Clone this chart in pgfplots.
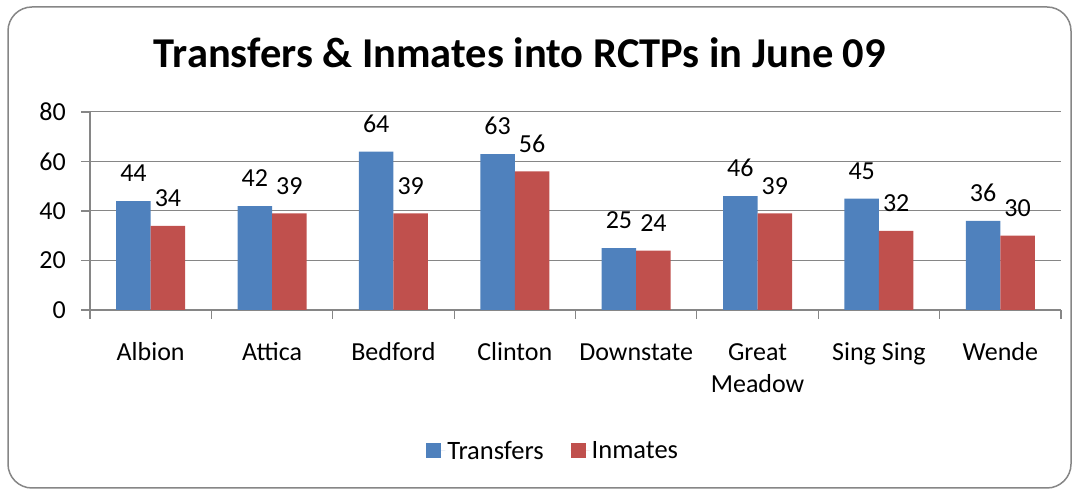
\documentclass[border=0pt]{standalone}
\usepackage{fontspec}
\setmainfont{Carlito}
\usepackage{pgfplots}
\pgfplotsset{compat=1.18}
\definecolor{cblue}{RGB}{79,129,189}
\definecolor{cred}{RGB}{192,80,77}
\definecolor{cgrid}{RGB}{134,134,134}
\begin{document}
\begin{tikzpicture}[x=1pt,y=1pt]
\useasboundingbox (0,0) rectangle (1079,489);
\draw[cgrid, line width=1.5pt, rounded corners=24pt] (8,1) rectangle (1071,482);
\node[font=\fontsize{42.5}{46}\selectfont\bfseries] at (520,436) {Transfers \& Inmates into RCTPs in June 09};
\begin{axis}[
  at={(90pt,179pt)}, anchor=south west,
  scale only axis, width=971pt, height=198pt,
  ymin=0, ymax=80, xmin=-0.5, xmax=7.5,
  ytick={0,20,...,80},
  xtick={-0.5,0.5,...,7.5},
  x tick label as interval,
  xticklabels={Albion,Attica,Bedford,Clinton,Downstate,{\begin{tabular}[t]{@{}c@{}}Great\\Meadow\end{tabular}},{Sing Sing},Wende},
  ybar=0pt, bar width=34.5pt,
  axis x line*=bottom, axis y line*=left,
  axis line style={cgrid, line width=1.2pt, -},
  tick style={cgrid, line width=1.2pt},
  tick align=outside, major tick length=9pt,
  ymajorgrids, grid style={cgrid, line width=1pt},
  clip=false,
  /pgf/number format/assume math mode=true,
  tick label style={font=\fontsize{26}{32}\selectfont, text=black},
  xticklabel style={anchor=north, inner sep=0pt, yshift=-19pt, execute at begin node=\strut},
  yticklabel style={anchor=east, inner sep=0pt, xshift=-15pt},
  nodes near coords,
  every node near coord/.append style={font=\fontsize{26}{30}\selectfont, text=black, anchor=south, inner sep=0pt, yshift=19pt},
  legend columns=2,
  legend style={draw=none, fill=none, at={(0.477,-0.712)}, anchor=center,
    font=\fontsize{26.5}{30}\selectfont,
    /tikz/every even column/.append style={column sep=25pt}},
  legend image code/.code={\fill[#1] (0pt,-7.5pt) rectangle (15pt,7.5pt); \path (0pt,0pt) -- (19pt,0pt);},
]
\addplot[fill=cblue, draw=none] coordinates {(0,44) (1,42) (2,64) (3,63) (4,25) (5,46) (6,45) (7,36)};
\addplot[fill=cred, draw=none] coordinates {(0,34) (1,39) (2,39) (3,56) (4,24) (5,39) (6,32) (7,30)};
\legend{Transfers, Inmates}
\end{axis}
\end{tikzpicture}
\end{document}
